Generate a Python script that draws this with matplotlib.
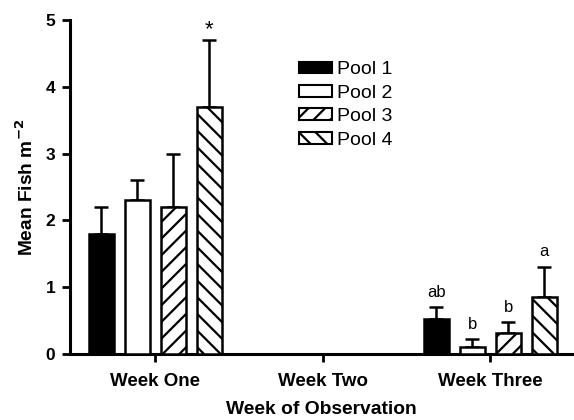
import numpy as np
import matplotlib.pyplot as plt
from matplotlib.patches import Patch

plt.rcParams['font.family'] = ['Liberation Sans', 'DejaVu Sans']
plt.rcParams['hatch.linewidth'] = 1.6

weeks = ['Week One', 'Week Two', 'Week Three']
pools = ['Pool 1', 'Pool 2', 'Pool 3', 'Pool 4']
means = {
    'Pool 1': [1.8, np.nan, 0.52],
    'Pool 2': [2.3, np.nan, 0.11],
    'Pool 3': [2.2, np.nan, 0.31],
    'Pool 4': [3.7, np.nan, 0.86],
}
errs = {
    'Pool 1': [0.4, np.nan, 0.18],
    'Pool 2': [0.3, np.nan, 0.11],
    'Pool 3': [0.8, np.nan, 0.17],
    'Pool 4': [1.0, np.nan, 0.45],
}
labels = {
    'Pool 1': ['', '', 'ab'],
    'Pool 2': ['', '', 'b'],
    'Pool 3': ['', '', 'b'],
    'Pool 4': ['*', '', 'a'],
}
faces = ['black', 'white', 'white', 'white']
hatches = [None, None, '//', '\\\\']

fig = plt.figure(figsize=(5.74, 4.2), dpi=100)
ax = fig.add_axes([0.122, 0.157, 0.875, 0.795])

x = np.arange(len(weeks))
width = 0.15
step = 0.215
handles = []
for i, p in enumerate(pools):
    xi = x + (i - 1.5) * step
    m = np.array(means[p], dtype=float)
    e = np.array(errs[p], dtype=float)
    ax.bar(xi, m, width, color=faces[i], edgecolor='black', linewidth=1.8,
           hatch=hatches[i], zorder=3)
    ax.errorbar(xi, m, yerr=[np.zeros_like(e), e], fmt='none', ecolor='black',
                elinewidth=1.8, capsize=4.7, capthick=1.8, zorder=2)
    for j in range(len(weeks)):
        if labels[p][j]:
            star = labels[p][j] == '*'
            fs = 16 if star else 12
            off = 0.0 if star else 0.11
            ax.text(xi[j], m[j] + e[j] + off, labels[p][j], ha='center', va='bottom',
                    fontsize=fs)
    handles.append(Patch(facecolor=faces[i], edgecolor='black', linewidth=1.5,
                         hatch=hatches[i], label=p))

ax.set_xlim(-0.51, 2.49)
ax.set_ylim(0, 5)
ax.set_yticks([0, 1, 2, 3, 4, 5])
ax.set_xticks(x)
ax.set_xticklabels(weeks, fontweight='bold', fontsize=13.5)
for t in ax.get_yticklabels():
    t.set_fontweight('bold')
    t.set_fontsize(12.5)
ax.tick_params(axis='both', width=2, length=5.5, direction='out')
ax.tick_params(axis='x', pad=8)
ax.tick_params(axis='y', pad=5)
for s in ['top', 'right']:
    ax.spines[s].set_visible(False)
for s in ['left', 'bottom']:
    ax.spines[s].set_linewidth(2.2)

ax.set_ylabel('Mean Fish m$^{\\mathbf{-2}}$', fontweight='bold', fontsize=13.8,
              labelpad=6)
ax.set_xlabel('Week of Observation', fontweight='bold', fontsize=13.9, labelpad=8)

leg = ax.legend(handles=handles, loc='upper left', bbox_to_anchor=(0.44, 0.90),
                frameon=False, fontsize=14, handlelength=1.7, handleheight=0.55,
                labelspacing=0.33, handletextpad=0.25, borderaxespad=0.0)

fig.savefig('out.png', dpi=100)
